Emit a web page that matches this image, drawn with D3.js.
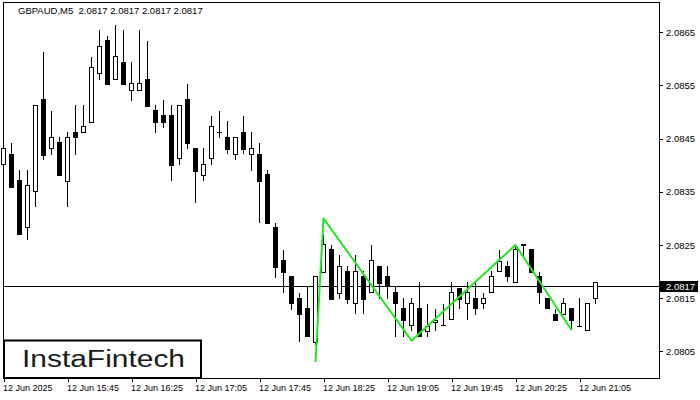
<!DOCTYPE html>
<html>
<head>
<meta charset="utf-8">
<script src="https://cdn.jsdelivr.net/npm/d3@7"></script>
<style>
  html, body { margin: 0; padding: 0; background: #fff; }
  svg { display: block; }
  text { font-family: "Liberation Sans", Arial, sans-serif; }
</style>
</head>
<body>
<svg id="chart" width="700" height="400"></svg>
<script>
// ---- data (GBPAUD M5, candle index 0 = 15:05) ----
const opens = [2.08402,2.08421,2.08372,2.08282,2.08350,2.08523,2.08432,2.08442,2.08370,2.08462,
2.08462,2.08481,2.08573,2.08634,2.08562,2.08594,2.08541,2.08541,2.08562,2.08502,
2.08493,2.08493,2.08412,2.08523,2.08432,2.08380,2.08412,2.08462,2.08453,2.08421,
2.08462,2.08421,2.08421,2.08382,2.08282,2.08220,2.08190,2.08150,2.08130,2.08066,
2.08199,2.08241,2.08158,2.08201,2.08139,2.08190,2.08160,2.08210,2.08190,2.08160,
2.08130,2.08099,2.08130,2.08088,2.08105,2.08099,2.08109,2.08169,2.08139,2.08150,
2.08139,2.08160,2.08201,2.08210,2.08180,2.08250,2.08241,2.08190,2.08150,2.08120,
2.08120,2.08130,2.08097,2.08090,2.08150];
const highs = [2.08472,2.08442,2.08391,2.08391,2.08513,2.08613,2.08502,2.08453,2.08462,2.08513,
2.08513,2.08604,2.08654,2.08643,2.08664,2.08654,2.08594,2.08654,2.08634,2.08513,
2.08523,2.08513,2.08513,2.08553,2.08432,2.08432,2.08493,2.08502,2.08483,2.08453,
2.08493,2.08462,2.08442,2.08391,2.08291,2.08241,2.08190,2.08160,2.08171,2.08190,
2.08269,2.08250,2.08231,2.08210,2.08231,2.08201,2.08250,2.08210,2.08210,2.08171,
2.08150,2.08150,2.08180,2.08139,2.08130,2.08139,2.08180,2.08169,2.08180,2.08180,
2.08160,2.08201,2.08241,2.08220,2.08250,2.08250,2.08241,2.08199,2.08150,2.08130,
2.08150,2.08130,2.08150,2.08139,2.08180];
const lows = [2.08400,2.08359,2.08269,2.08259,2.08321,2.08410,2.08419,2.08380,2.08321,2.08419,
2.08462,2.08481,2.08560,2.08551,2.08562,2.08551,2.08521,2.08541,2.08511,2.08460,
2.08470,2.08370,2.08400,2.08430,2.08329,2.08370,2.08400,2.08451,2.08421,2.08410,
2.08421,2.08389,2.08291,2.08291,2.08188,2.08160,2.08128,2.08067,2.08077,2.08062,
2.08199,2.08148,2.08148,2.08139,2.08120,2.08120,2.08160,2.08148,2.08148,2.08077,
2.08077,2.08088,2.08077,2.08077,2.08088,2.08097,2.08109,2.08130,2.08109,2.08118,
2.08130,2.08160,2.08199,2.08180,2.08180,2.08227,2.08199,2.08139,2.08130,2.08107,
2.08120,2.08090,2.08097,2.08090,2.08139];
const closes = [2.08432,2.08359,2.08269,2.08361,2.08513,2.08419,2.08453,2.08380,2.08453,2.08453,
2.08472,2.08583,2.08624,2.08551,2.08604,2.08551,2.08553,2.08553,2.08511,2.08481,
2.08481,2.08400,2.08513,2.08440,2.08389,2.08402,2.08472,2.08462,2.08430,2.08453,
2.08430,2.08432,2.08370,2.08291,2.08208,2.08199,2.08139,2.08120,2.08077,2.08190,
2.08250,2.08148,2.08210,2.08148,2.08201,2.08148,2.08220,2.08178,2.08171,2.08139,
2.08107,2.08139,2.08077,2.08097,2.08107,2.08099,2.08160,2.08148,2.08160,2.08130,
2.08150,2.08190,2.08218,2.08190,2.08241,2.08250,2.08199,2.08160,2.08130,2.08107,
2.08139,2.08107,2.08097,2.08139,2.08180];

const timeTickIdx    = [0, 8, 16, 24, 32, 40, 48, 56, 64, 72];
const timeTickLabels = ["12 Jun 2025","12 Jun 15:45","12 Jun 16:25","12 Jun 17:05","12 Jun 17:45",
                        "12 Jun 18:25","12 Jun 19:05","12 Jun 19:45","12 Jun 20:25","12 Jun 21:05"];
const priceTicks = [2.0805, 2.0815, 2.0825, 2.0835, 2.0845, 2.0855, 2.0865];

// pattern (green) line: candle index and price
const patternIdx   = [39, 40, 51, 64, 71];
const patternPrice = [2.0803, 2.0830, 2.0807, 2.0825, 2.0809];

const currentPrice = 2.0817;
const titleText = "GBPAUD,M5  2.0817 2.0817 2.0817 2.0817";

// ---- drawing ----
const svg = d3.select("#chart");
const W = 700, H = 400;
const plot = {left: 3, right: 660, top: 2, bottom: 378};

svg.append("rect").attr("width", W).attr("height", H).attr("fill", "#fff");

const x = d3.scaleLinear().domain([0, 74]).range([3.5, 595.5]);
const y = d3.scaleLinear().domain([2.0805, 2.0865]).range([351.3, 32.3]);

const candles = opens.map((o, i) => ({i, o, h: highs[i], l: lows[i], c: closes[i]}));

// frame
svg.append("rect")
  .attr("x", plot.left + 0.5).attr("y", plot.top + 0.5)
  .attr("width", plot.right - plot.left - 1).attr("height", plot.bottom - plot.top)
  .attr("fill", "none").attr("stroke", "#000").attr("stroke-width", 1)
  .attr("shape-rendering", "crispEdges");

// current price line
const yCur = Math.round(y(currentPrice)) - 0.5;
svg.append("line")
  .attr("x1", plot.left).attr("x2", plot.right)
  .attr("y1", yCur).attr("y2", yCur)
  .attr("stroke", "#000").attr("stroke-width", 1)
  .attr("shape-rendering", "crispEdges");

// candles
const g = svg.append("g").attr("shape-rendering", "crispEdges");
g.selectAll("line.wick").data(candles).join("line")
  .attr("class", "wick")
  .attr("x1", d => x(d.i)).attr("x2", d => x(d.i))
  .attr("y1", d => y(d.h)).attr("y2", d => y(d.l))
  .attr("stroke", "#000").attr("stroke-width", 1);
g.selectAll("rect.body").data(candles).join("rect")
  .attr("class", "body")
  .attr("x", d => x(d.i) - 2).attr("width", 4)
  .attr("y", d => y(Math.max(d.o, d.c)))
  .attr("height", d => Math.max(0.6, Math.abs(y(d.o) - y(d.c))))
  .attr("fill", d => d.c >= d.o ? "#fff" : "#000")
  .attr("stroke", "#000").attr("stroke-width", 1);

// pattern line
const pts = patternIdx.map((k, j) => [x(k), y(patternPrice[j])]);
svg.append("path")
  .attr("d", d3.line()(pts))
  .attr("fill", "none").attr("stroke", "#22e622").attr("stroke-width", 2)
  .attr("stroke-linejoin", "round");

// right price axis
const yAxisG = svg.append("g").attr("transform", `translate(${plot.right},0)`);
const yAxis = d3.axisRight(y).tickValues(priceTicks).tickFormat(d3.format(".4f"))
  .tickSize(3).tickPadding(3);
yAxisG.call(yAxis);
yAxisG.select(".domain").remove();
yAxisG.selectAll(".tick line").attr("stroke", "#000").attr("shape-rendering", "crispEdges");
yAxisG.selectAll(".tick text").attr("font-size", "9.5px").attr("fill", "#000")
  .attr("font-family", "Liberation Sans, Arial, sans-serif");

// current price label
svg.append("rect").attr("x", plot.right).attr("y", yCur - 5.5)
  .attr("width", 38).attr("height", 11).attr("fill", "#000");
svg.append("text").attr("x", plot.right + 6).attr("y", yCur)
  .attr("dy", "0.35em").attr("font-size", "9.5px").attr("fill", "#fff")
  .text(d3.format(".4f")(currentPrice));

// bottom time axis
const xAxisG = svg.append("g").attr("transform", `translate(0,${plot.bottom})`);
const xAxis = d3.axisBottom(x).tickValues(timeTickIdx)
  .tickFormat((d, j) => timeTickLabels[j]).tickSize(4).tickPadding(3);
xAxisG.call(xAxis);
xAxisG.select(".domain").remove();
xAxisG.selectAll(".tick line").attr("stroke", "#000").attr("shape-rendering", "crispEdges");
xAxisG.selectAll(".tick text").attr("font-size", "9px").attr("fill", "#000")
  .attr("text-anchor", "start").attr("x", -1)
  .attr("font-family", "Liberation Sans, Arial, sans-serif");

// title
svg.append("text").attr("x", 18).attr("y", 14)
  .attr("font-size", "9.5px").attr("fill", "#000")
  .style("white-space", "pre")
  .text(titleText);

// logo box
svg.append("rect").attr("x", 4).attr("y", 340.5).attr("width", 197).attr("height", 37.5)
  .attr("fill", "#fff").attr("stroke", "#000").attr("stroke-width", 2);
svg.append("text").attr("x", 22).attr("y", 367)
  .attr("font-family", "Inter, 'Noto Sans', sans-serif").attr("font-weight", 500)
  .attr("font-size", "23px").attr("fill", "#1a1a1a")
  .attr("textLength", 163).attr("lengthAdjust", "spacingAndGlyphs")
  .text("InstaFintech");
</script>
</body>
</html>
